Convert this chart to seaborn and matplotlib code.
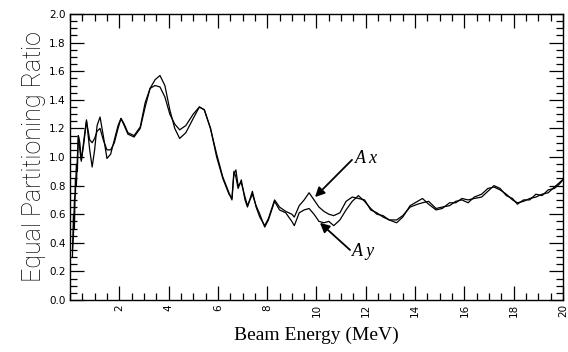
import numpy as np
import pandas as pd
import matplotlib
matplotlib.use("Agg")
import matplotlib.pyplot as plt
from matplotlib.ticker import MultipleLocator
import seaborn as sns

# beam energy samples (MeV)
energy = [0.10, 0.14, 0.18, 0.22, 0.26, 0.30, 0.34, 0.40, 0.46, 0.55,
          0.67, 0.80, 0.90, 1.00, 1.10, 1.22, 1.35, 1.50, 1.65, 1.80,
          1.95, 2.07, 2.20, 2.35, 2.60, 2.85, 3.05, 3.25, 3.45, 3.65,
          3.85, 4.05, 4.25, 4.45, 4.70, 5.00, 5.25, 5.45, 5.70, 5.95,
          6.20, 6.45, 6.57, 6.65, 6.73, 6.82, 6.95, 7.10, 7.20, 7.40,
          7.55, 7.70, 7.90, 8.05, 8.30, 8.50, 8.75, 9.00, 9.10, 9.30,
          9.50, 9.70, 9.90, 10.10, 10.30, 10.50, 10.70, 10.95, 11.20, 11.45,
          11.70, 11.95, 12.20, 12.45, 12.70, 12.95, 13.25, 13.50, 13.80, 14.10,
          14.30, 14.55, 14.85, 15.10, 15.40, 15.65, 15.90, 16.15, 16.40, 16.70,
          16.95, 17.20, 17.45, 17.70, 17.95, 18.15, 18.40, 18.65, 18.90, 19.15,
          19.40, 19.65, 19.85, 20.10]

ax_ratio = [0.30, 0.60, 0.50, 0.85, 0.80, 1.00, 1.15, 1.05, 0.97, 1.10,
            1.26, 1.05, 0.93, 1.05, 1.22, 1.28, 1.15, 0.99, 1.02, 1.12,
            1.22, 1.27, 1.22, 1.16, 1.14, 1.20, 1.35, 1.48, 1.54, 1.57,
            1.50, 1.33, 1.20, 1.13, 1.17, 1.27, 1.35, 1.33, 1.20, 1.00,
            0.85, 0.74, 0.71, 0.90, 0.86, 0.78, 0.84, 0.70, 0.65, 0.76,
            0.65, 0.58, 0.52, 0.57, 0.70, 0.65, 0.62, 0.60, 0.58, 0.66,
            0.70, 0.75, 0.70, 0.65, 0.62, 0.60, 0.59, 0.61, 0.69, 0.72,
            0.71, 0.70, 0.63, 0.61, 0.58, 0.56, 0.56, 0.59, 0.65, 0.67,
            0.68, 0.69, 0.64, 0.65, 0.66, 0.69, 0.70, 0.68, 0.72, 0.74,
            0.78, 0.79, 0.77, 0.74, 0.70, 0.68, 0.69, 0.71, 0.72, 0.74,
            0.75, 0.79, 0.82, 0.86]

ay_ratio = [0.35, 0.45, 0.70, 0.75, 0.95, 0.90, 1.15, 1.10, 0.98, 1.08,
            1.25, 1.12, 1.10, 1.13, 1.18, 1.20, 1.12, 1.05, 1.05, 1.10,
            1.20, 1.27, 1.23, 1.17, 1.15, 1.21, 1.38, 1.48, 1.50, 1.49,
            1.42, 1.30, 1.23, 1.19, 1.22, 1.30, 1.35, 1.33, 1.20, 1.02,
            0.86, 0.75, 0.70, 0.88, 0.91, 0.80, 0.82, 0.72, 0.66, 0.74,
            0.66, 0.60, 0.51, 0.56, 0.69, 0.63, 0.61, 0.55, 0.52, 0.61,
            0.63, 0.64, 0.60, 0.55, 0.54, 0.55, 0.52, 0.56, 0.63, 0.69,
            0.73, 0.69, 0.64, 0.60, 0.59, 0.56, 0.54, 0.58, 0.66, 0.69,
            0.71, 0.67, 0.63, 0.64, 0.68, 0.68, 0.71, 0.70, 0.71, 0.72,
            0.76, 0.80, 0.78, 0.73, 0.71, 0.67, 0.70, 0.70, 0.74, 0.73,
            0.77, 0.78, 0.81, 0.86]

x_ticks = [2, 4, 6, 8, 10, 12, 14, 16, 18, 20]

df = pd.DataFrame({'energy': energy + energy,
                   'ratio': ax_ratio + ay_ratio,
                   'series': ['Ax'] * len(energy) + ['Ay'] * len(energy)})

sns.set_style('ticks')
plt.rcParams['font.family'] = ['DejaVu Sans']
plt.rcParams['text.color'] = 'black'
plt.rcParams['axes.labelcolor'] = 'black'
plt.rcParams['xtick.color'] = 'black'
plt.rcParams['ytick.color'] = 'black'

fig = plt.figure(figsize=(5.68, 3.52), dpi=100)
ax = fig.add_axes([0.1232, 0.1477, 0.8680, 0.8125])

sns.lineplot(data=df, x='energy', y='ratio', units='series', estimator=None,
             color='black', linewidth=0.9, ax=ax)

ax.set_xlim(0, 20)
ax.set_ylim(0, 2.0)
ax.set_xticks(x_ticks)
ax.set_xticklabels([str(t) for t in x_ticks], rotation=90, fontsize=7.5)
ax.xaxis.set_minor_locator(MultipleLocator(0.5))
ax.yaxis.set_major_locator(MultipleLocator(0.2))
ax.yaxis.set_minor_locator(MultipleLocator(0.05))
ax.yaxis.set_major_formatter(matplotlib.ticker.FormatStrFormatter('%.1f'))
for lab in ax.get_yticklabels():
    lab.set_fontsize(7.5)

ax.tick_params(which='both', direction='in', top=True, right=True,
               color='black', labelcolor='black', width=0.9, pad=3)
ax.tick_params(which='major', length=10)
ax.tick_params(which='minor', length=5)
for s in ax.spines.values():
    s.set_linewidth(1.0)
    s.set_color('black')

ax.set_xlabel('Beam Energy (MeV)', family='Liberation Serif', fontsize=14,
              color='black', labelpad=7)
ax.set_ylabel('Equal Partitioning Ratio', family='Roboto', fontweight='light',
              fontsize=18, color='black', labelpad=2)

arrow = dict(arrowstyle='-|>', color='black', lw=1.3, mutation_scale=14,
             shrinkA=0, shrinkB=0)
ax.annotate('', xy=(9.94, 0.72), xytext=(11.44, 0.98), arrowprops=arrow)
ax.annotate('', xy=(10.14, 0.54), xytext=(11.36, 0.35), arrowprops=arrow)
ax.text(11.55, 0.99, 'A x', family='Liberation Serif', style='italic',
        fontsize=13, va='center', ha='left', color='black')
ax.text(11.45, 0.34, 'A y', family='Liberation Serif', style='italic',
        fontsize=13, va='center', ha='left', color='black')

fig.savefig('out.png', dpi=100)
